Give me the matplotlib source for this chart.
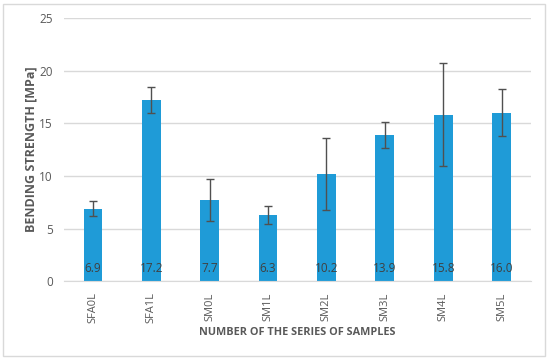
import matplotlib.pyplot as plt
from matplotlib.patches import Rectangle

plt.rcParams['font.family'] = ['Open Sans', 'DejaVu Sans']

series = ["SFA0L", "SFA1L", "SM0L", "SM1L", "SM2L", "SM3L", "SM4L", "SM5L"]
strength = [6.9, 17.2, 7.7, 6.3, 10.2, 13.9, 15.8, 16.0]
errors = [0.7, 1.2, 2.0, 0.85, 3.4, 1.25, 4.9, 2.25]

fig = plt.figure(figsize=(5.5, 3.6), dpi=100)
ax = fig.add_axes([0.116, 0.219, 0.849, 0.731])

x = range(len(series))
ax.bar(x, strength, width=0.32, color="#1F9BD7", zorder=2,
       yerr=errors, error_kw=dict(ecolor="#505050", elinewidth=1.0, capsize=3, capthick=1.0, zorder=3))

# data labels near the bottom of each bar
for i, v in zip(x, strength):
    ax.text(i, 1.2, f"{v:.1f}", ha="center", va="center", fontsize=8.5, color="#404040", zorder=4)

ax.set_ylim(0, 25)
ax.set_yticks([0, 5, 10, 15, 20, 25])
ax.set_xlim(-0.5, len(series) - 0.5)
ax.set_xticks(list(x))
ax.set_xticklabels(series, rotation=90)
ax.grid(axis="y", color="#D9D9D9", linewidth=1, zorder=0)
for s in ["top", "right", "left"]:
    ax.spines[s].set_visible(False)
ax.spines["bottom"].set_color("#D9D9D9")
ax.tick_params(axis="both", length=0, labelsize=8.5, colors="#595959", pad=8)
ax.tick_params(axis="x", labelsize=8, pad=8)

ax.set_ylabel("BENDING STRENGTH [MPa]", fontsize=9, fontweight="bold", color="#595959", va="center")
ax.set_xlabel("NUMBER OF THE SERIES OF SAMPLES", fontsize=7.8, fontweight="bold", color="#595959", va="center")
ax.yaxis.set_label_coords(-0.07, 0.5)
ax.xaxis.set_label_coords(0.5, -0.194)

# light border around the chart
fig.patches.append(Rectangle((0.006, 0.012), 0.984, 0.978, transform=fig.transFigure,
                             fill=False, edgecolor="#D9D9D9", linewidth=1))

fig.savefig("out.png", dpi=100)
